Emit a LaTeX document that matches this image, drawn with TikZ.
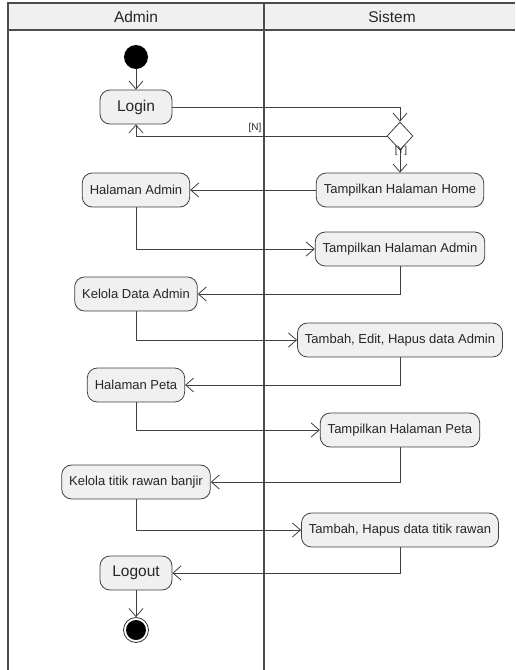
\documentclass[tikz,border=0pt]{standalone}
\usepackage{fontspec}
\setmainfont{Liberation Sans}
\usetikzlibrary{arrows.meta}
\usetikzlibrary{shapes.geometric}
\usetikzlibrary{calc}
\tikzstyle{activity}=[draw=black!75,fill=black!6,rounded corners=10pt,minimum height=34pt,inner xsep=7.5pt,font=\fontsize{13}{15}\selectfont,text=black!85]
\tikzstyle{flow}=[draw=black!75,-{Straight Barb[length=8pt,width=14pt]}]

\begin{document}
\begin{tikzpicture}[x=1pt,y=-1pt,line width=0.8pt]
\tikzstyle{lane}=[font=\fontsize{15.5}{17}\selectfont,text=black!85]
\tikzstyle{big}=[font=\fontsize{15.5}{17}\selectfont,minimum width=72pt]
\tikzstyle{initial}=[circle,fill=black,minimum size=24pt,inner sep=0pt]
\tikzstyle{final}=[circle,draw=black!80,fill=white,minimum size=25pt,inner sep=0pt,
  path picture={\fill[black] (path picture bounding box.center) circle (10pt);}]
\tikzstyle{decision}=[diamond,draw=black!75,fill=white,minimum width=26pt,minimum height=28pt,inner sep=0pt]
\tikzstyle{guard}=[font=\fontsize{10}{11}\selectfont,inner sep=1pt,text=black!85]
\useasboundingbox (0,0) rectangle (515,670);

% swimlanes
\fill[black!6] (8,3) rectangle (515,30);
\draw[black!70,line width=1.2pt] (8,670) -- (8,3) -- (515,3);
\draw[black!70,line width=1.2pt] (8,30) -- (515,30);
\draw[black!70,line width=1.2pt] (264,3) -- (264,670);
\node[lane] (admin) at (136,17) {Admin};
\node[lane] (sistem) at (392,17) {Sistem};

% Admin lane
\node [initial] (start) at (136,57) {};
\node [activity,big] (login) at (136,107) {Login};
\node [activity] (hadmin) at (136,190) {Halaman Admin};
\node [activity] (kadmin) at (136,294) {Kelola Data Admin};
\node [activity] (hpeta) at (136,385) {Halaman Peta};
\node [activity] (ktitik) at (136,482) {Kelola titik rawan banjir};
\node [activity,big] (logout) at (136,573) {Logout};
\node [final] (end) at (136,630) {};

% Sistem lane
\node [decision] (dec) at (400,136) {};
\node [activity] (home) at (400,190) {Tampilkan Halaman Home};
\node [activity] (thadmin) at (400,249) {Tampilkan Halaman Admin};
\node [activity] (tehadmin) at (400,340) {Tambah, Edit, Hapus data Admin};
\node [activity] (thpeta) at (400,430) {Tampilkan Halaman Peta};
\node [activity] (thtitik) at (400,530) {Tambah, Hapus data titik rawan};

% flows
\draw[flow] (start) -- (login);
\draw[flow] (login.east) -| (dec.north);
\draw[flow] (dec.west) -| (login.south);
\node[guard] (n) at (255,128) {[N]};
\draw[flow] (dec.south) -- (home.north);
\node[guard] (y) at (401,151) {[Y]};
\draw[flow] (home) -- (hadmin);
\draw[flow] (hadmin.south) |- (thadmin.west);
\draw[flow] (thadmin.south) |- (kadmin.east);
\draw[flow] (kadmin.south) |- (tehadmin.west);
\draw[flow] (tehadmin.south) |- (hpeta.east);
\draw[flow] (hpeta.south) |- (thpeta.west);
\draw[flow] (thpeta.south) |- (ktitik.east);
\draw[flow] (ktitik.south) |- (thtitik.west);
\draw[flow] (thtitik.south) |- (logout.east);
\draw[flow] (logout) -- (end);
\end{tikzpicture}
\end{document}
